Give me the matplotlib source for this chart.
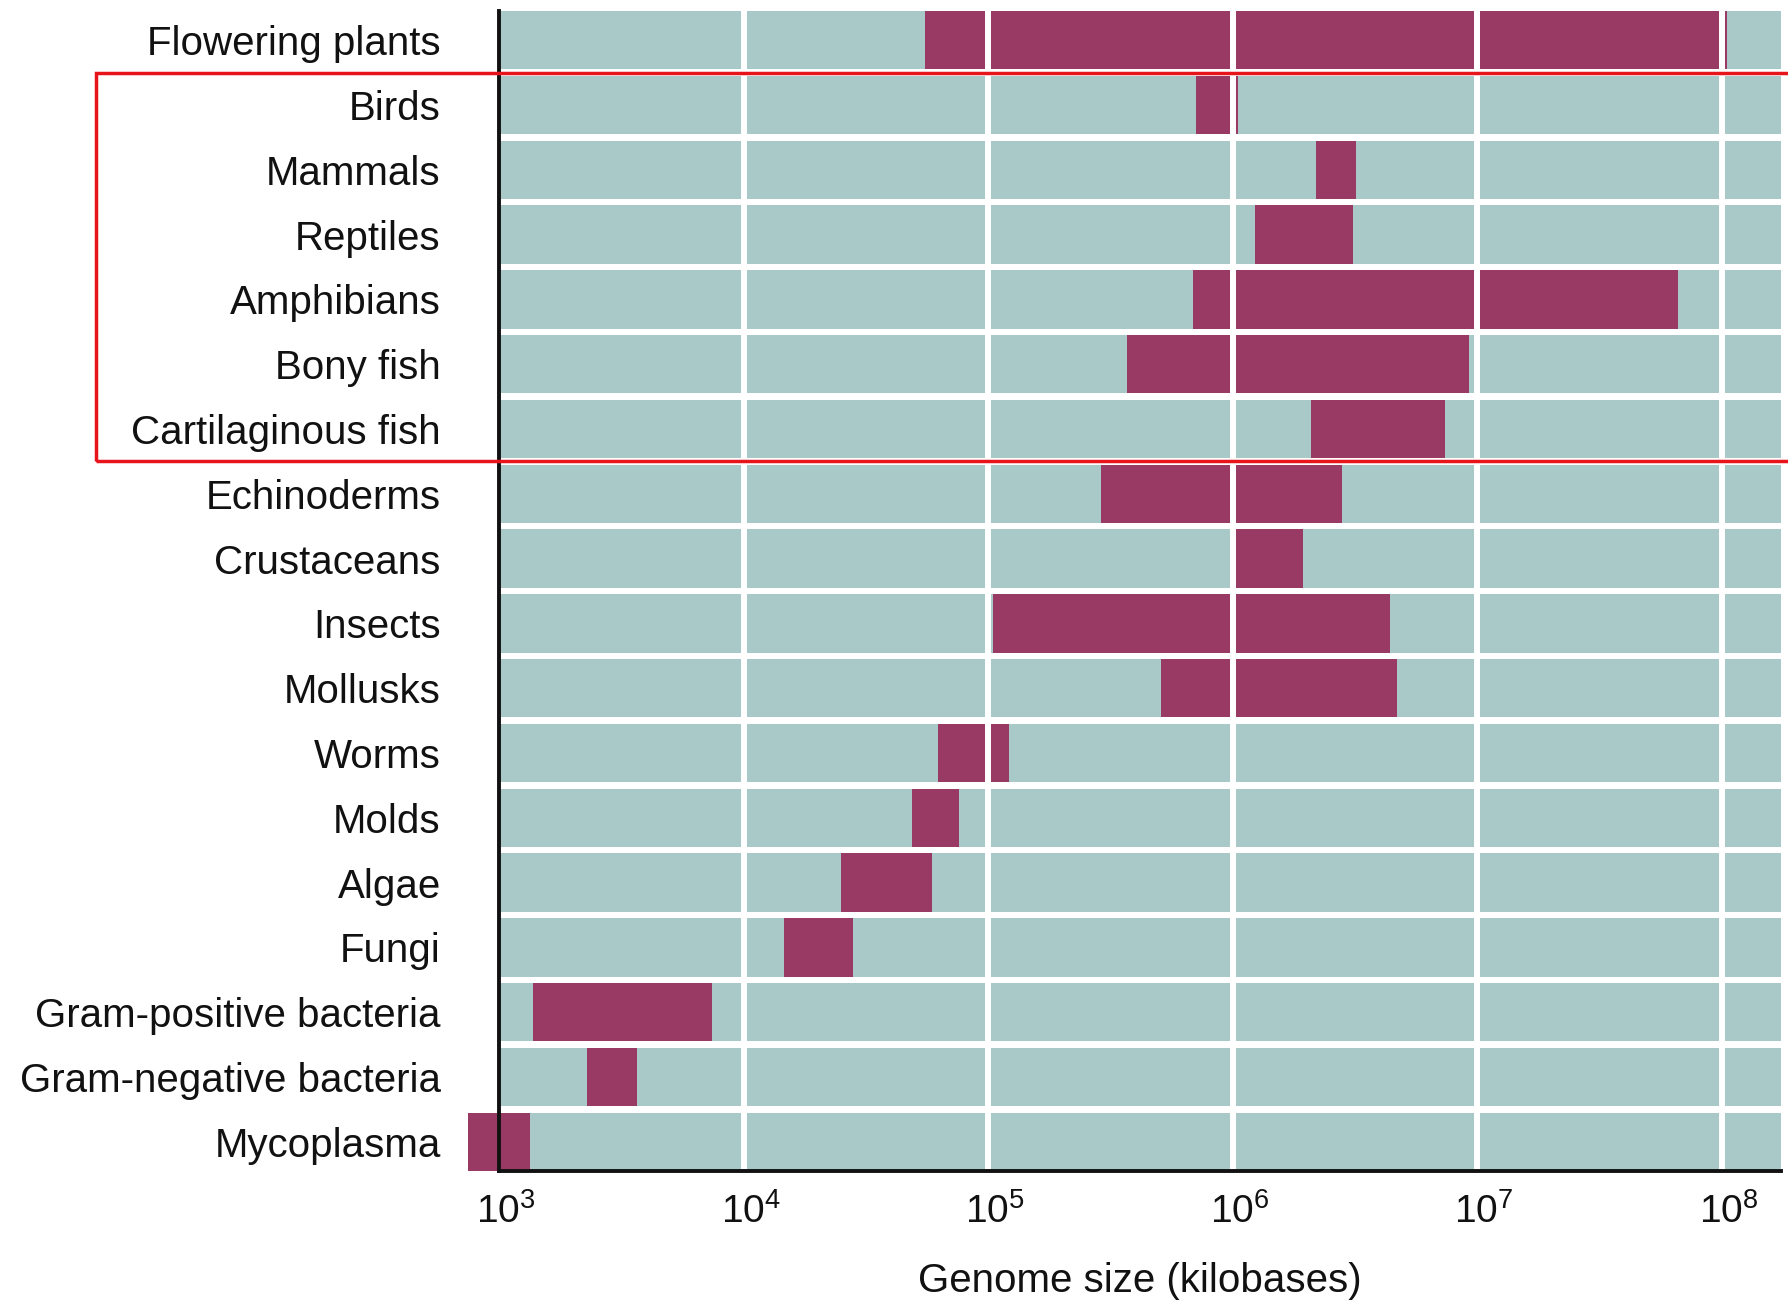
import matplotlib
matplotlib.use("Agg")
import matplotlib.pyplot as plt
import matplotlib.transforms as mtransforms
from matplotlib.patches import Rectangle
from matplotlib.ticker import NullLocator

plt.rcParams['font.family'] = ['Liberation Sans', 'DejaVu Sans']
plt.rcParams['mathtext.fontset'] = 'custom'
plt.rcParams['mathtext.rm'] = 'Liberation Sans'
plt.rcParams['mathtext.it'] = 'Liberation Sans:italic'

# groups from top to bottom, genome size ranges in kilobases
groups = ["Flowering plants", "Birds", "Mammals", "Reptiles", "Amphibians",
          "Bony fish", "Cartilaginous fish", "Echinoderms", "Crustaceans",
          "Insects", "Mollusks", "Worms", "Molds", "Algae", "Fungi",
          "Gram-positive bacteria", "Gram-negative bacteria", "Mycoplasma"]
low = [5.5e4, 7.1e5, 2.2e6, 1.24e6, 6.9e5,
       3.7e5, 2.1e6, 2.9e5, 1.02e6,
       1.05e5, 5.1e5, 6.25e4, 4.9e4, 2.5e4, 1.47e4,
       1.38e3, 2.3e3, 750]
high = [1.05e8, 1.05e6, 3.2e6, 3.1e6, 6.65e7,
        9.3e6, 7.4e6, 2.8e6, 1.94e6,
        4.4e6, 4.7e6, 1.22e5, 7.6e4, 5.9e4, 2.8e4,
        7.4e3, 3.65e3, 1.34e3]
decades = [1e3, 1e4, 1e5, 1e6, 1e7, 1e8]

teal = "#a8c9c8"
plum = "#983a63"

fig = plt.figure(figsize=(17.88, 13.02), dpi=100)
ax = fig.add_axes([0.2791, 0.1006, 0.7170, 0.8910])

n = len(groups)
ypos = [n - 1 - i for i in range(n)]
xmin, xmax = 1e3, 10 ** 8.243

ax.set_xscale('log')
ax.set_xlim(xmin, xmax)
ax.set_ylim(-0.45, n - 1 + 0.45)

# teal background band for every row
ax.barh(ypos, [xmax - xmin] * n, left=xmin, height=0.9, color=teal, zorder=0.8)
# genome size ranges
widths = [h - l for l, h in zip(low, high)]
bars = ax.barh(ypos, widths, left=low, height=0.9, color=plum, zorder=1)
for b in bars:
    b.set_clip_on(False)

ax.set_xticks(decades)
ax.xaxis.set_minor_locator(NullLocator())
ax.grid(axis='x', color='white', lw=4.3)
ax.set_axisbelow(False)
ax.xaxis.get_gridlines()[0].set_visible(False)

ax.set_yticks(ypos)
ax.set_yticklabels(groups, fontsize=29, color='#111111')
ax.tick_params(axis='y', length=0, pad=42)
ax.tick_params(axis='x', length=0, pad=16, labelsize=28, labelcolor='#111111')
ax.set_xlabel("Genome size (kilobases)", fontsize=29, color='#111111', labelpad=22)

shift = mtransforms.ScaledTranslation(0.07, 0, fig.dpi_scale_trans)
for lab in ax.get_xticklabels():
    lab.set_transform(lab.get_transform() + shift)

for s in ['top', 'right']:
    ax.spines[s].set_visible(False)
for s in ['left', 'bottom']:
    ax.spines[s].set_linewidth(2.8)
    ax.spines[s].set_color('#111111')
    ax.spines[s].set_zorder(3)

# red highlight box around the vertebrate rows
trans = mtransforms.blended_transform_factory(fig.transFigure, ax.transData)
box = Rectangle((0.0537, 10.5), 1.0, 6.0, transform=trans, fill=False,
                edgecolor='#e8141c', lw=2.5, clip_on=False, zorder=5)
fig.add_artist(box)

fig.savefig("out.png", dpi=100)
